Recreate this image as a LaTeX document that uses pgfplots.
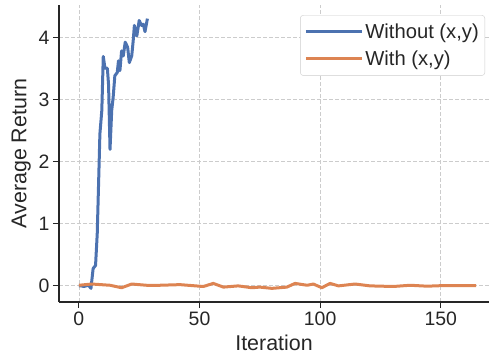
\documentclass[border=0pt]{standalone}
\usepackage{pgfplots}
\pgfplotsset{compat=1.18}
\usepackage{fontspec}
\setmainfont{Liberation Sans}
\definecolor{sbblue}{HTML}{4C72B0}
\definecolor{sborange}{HTML}{DD8452}
\definecolor{gridc}{HTML}{CCCCCC}
\definecolor{spine}{HTML}{262626}
\begin{document}
\begin{tikzpicture}
\begin{axis}[
  at={(0,0)}, anchor=south west,
  scale only axis, width=430bp, height=297bp,
  xmin=-8.25, xmax=170, ymin=-0.26, ymax=4.53,
  axis x line*=bottom, axis y line*=left,
  axis line style={-, spine, line width=1.2bp},
  xtick={0,50,100,150}, ytick={0,1,2,3,4},
  tick align=outside, major tick length=6bp,
  tick style={spine, line width=1.1bp},
  grid=major,
  major grid style={gridc, line width=0.8bp, dash pattern=on 4bp off 2bp},
  /pgf/number format/assume math mode=true,
  ticklabel style={font=\fontsize{19.5}{22}\selectfont, text=spine},
  xlabel style={font=\fontsize{21.5}{25}\selectfont, text=spine, yshift=-3bp},
  ylabel style={font=\fontsize{21.5}{25}\selectfont, text=spine, yshift=1bp},
  xlabel={Iteration}, ylabel={Average Return},
  legend style={at={(0.9907,0.966)}, anchor=north east, draw=gridc, rounded corners=3bp, fill=white, font=\fontsize{20.3}{23}\selectfont, text=spine, row sep=7bp, inner xsep=4bp, inner ysep=6.5bp},
  legend cell align=left,
  legend image code/.code={\draw[#1, line width=3bp] (0bp,0bp) -- (44bp,0bp); \path (-3bp,0bp) -- (53bp,0bp);},
]
\addplot[sbblue, line width=3bp, line join=round] coordinates {
(0,0) (1,0.0) (2,-0.01) (3,0.0) (4,0.01) (5,-0.04) (5.9,0.28) (6.9,0.33) (7.6,0.84) (8.4,2.0) (8.7,2.45) (9.5,2.83) (10.1,3.7) (10.8,3.51) (11.8,3.51) (12.3,3.24) (12.9,2.2) (13.6,2.83) (14.2,3.04) (14.9,3.39) (15.9,3.44) (16.4,3.63) (17.0,3.47) (17.7,3.79) (18.4,3.71) (19.2,3.93) (20.2,3.85) (20.9,3.6) (21.9,3.71) (22.5,3.95) (23.0,4.2) (24.0,4.03) (25.0,4.28) (26.0,4.2) (26.7,4.22) (27.4,4.1) (28.4,4.31)
};
\addlegendentry{Without (x,y)}
\addplot[sborange, line width=3bp, line join=round] coordinates {
(0,0.01) (5.3,0.03) (12.9,0.01) (17.7,-0.03) (21.9,0.03) (28,0.01) (33.6,0.01) (41.9,0.02) (51.6,-0.01) (55.7,0.04) (59.9,-0.02) (66,0) (71.7,-0.03) (75,-0.02) (80,-0.04) (86.2,-0.02) (89.6,0.04) (94.6,0.01) (97.2,0.03) (100.7,-0.03) (104.1,0.04) (107.6,0) (114.5,0.03) (120.7,0) (130.3,-0.01) (137.3,0.01) (144.3,-0.005) (151.2,0.005) (164.7,0.005)
};
\addlegendentry{With (x,y)}
\end{axis}
\pgfresetboundingbox
\path[use as bounding box] (-59bp,-54bp) rectangle (430bp,302bp);
\end{tikzpicture}
\end{document}
